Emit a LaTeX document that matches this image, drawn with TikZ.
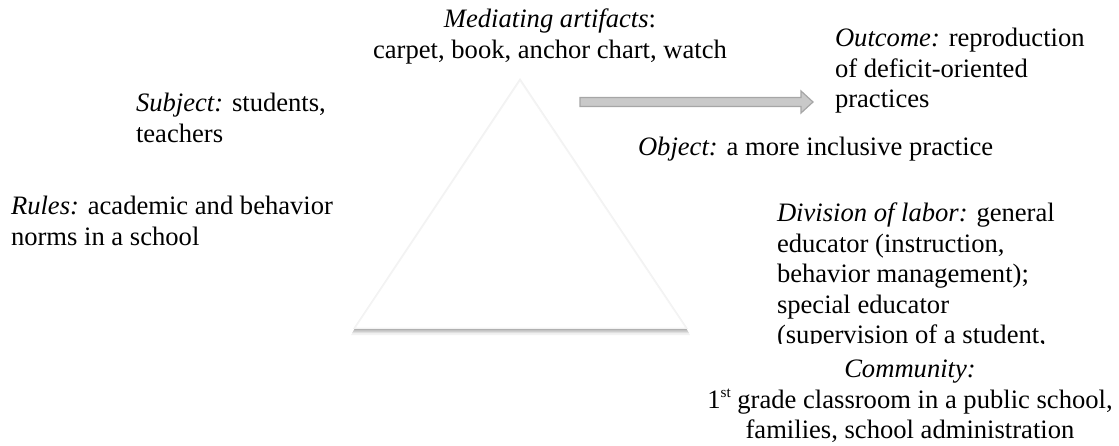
\documentclass[tikz,border=0pt]{standalone}
\usepackage{fontspec}
\setmainfont{Liberation Serif}
\begin{document}
\begin{tikzpicture}[x=0.5pt,y=-0.5pt,
  lbl/.style={inner sep=0pt, outer sep=0pt, font=\fontsize{13.3}{15.2}\selectfont, align=left, anchor=north west},
  clbl/.style={lbl, align=center, anchor=north}]
\useasboundingbox (0,0) rectangle (1119,445);
% triangle with soft shadow
\fill[gray!10] (520,80) -- (690,335) -- (351,335) -- cycle;
\fill[gray!25] (520,80) -- (689,333) -- (352,333) -- cycle;
\fill[gray!45] (520,80) -- (688,331.5) -- (353,331.5) -- cycle;
\fill[gray!62] (520,80) -- (687,330) -- (354,330) -- cycle;
\fill[gray!10] (520,78) -- (688,328.8) -- (353,328.8) -- cycle;
\path[fill=white, draw=gray!9, line width=0.5pt] (520,80.5) -- (686,328) -- (355,328) -- cycle;
% texts
\node[clbl] (med) at (550,6.7) {\strut\textit{Mediating artifacts}:\\carpet, book, anchor chart, watch};
\node[lbl] (subj) at (136,90.7) {\strut\textit{Subject:} students,\\teachers};
\node[lbl] (rules) at (11,193.7) {\strut\textit{Rules:} academic and behavior\\norms in a school};
\node[lbl] (out) at (835,25.7) {\strut\textit{Outcome:} reproduction\\of deficit-oriented\\practices};
\node[lbl] (obj) at (638,134.7) {\strut\textit{Object:} a more inclusive practice};
\begin{scope}
\clip (700,150) rectangle (1119,343);
\node[lbl] (div) at (777,200.7) {\strut\textit{Division of labor:} general\\educator (instruction,\\behavior management);\\special educator\\(supervision of a student,};
\end{scope}
\node[clbl] (comm) at (910,356.7) {\strut\textit{Community:}\\1\raisebox{0.42em}{\fontsize{7.6}{8}\selectfont st} grade classroom in a public school,\\families, school administration};
% block arrow
\path[fill=gray!42, draw=gray!70, line width=0.6pt]
  (580,97.5) -- (801,97.5) -- (801,91) -- (813,102) -- (801,113) -- (801,106.5) -- (580,106.5) -- cycle;
\end{tikzpicture}
\end{document}
